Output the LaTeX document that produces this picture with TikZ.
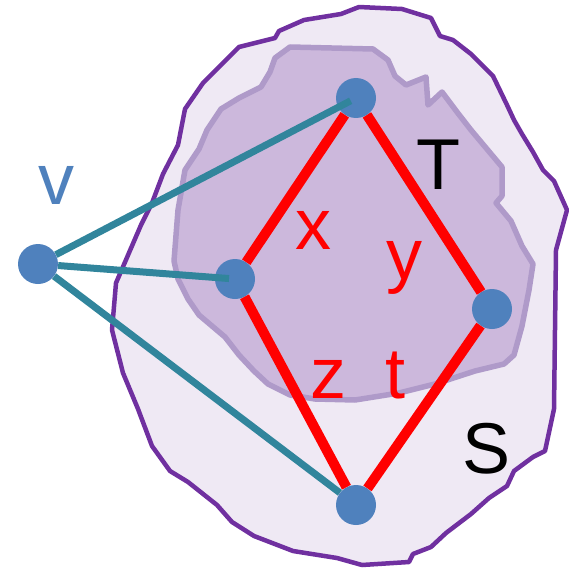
\documentclass[tikz,border=0pt]{standalone}
\usepackage{fontspec}
\setmainfont{Liberation Sans}
\usepackage{xcolor}
\usepackage{tikz}
\usetikzlibrary{positioning}
\definecolor{vertexblue}{HTML}{4F81BD}
\definecolor{edgeteal}{HTML}{31859C}
\definecolor{edgered}{HTML}{FF0000}
\definecolor{outerfill}{HTML}{EFE9F4}
\definecolor{outerline}{HTML}{7030A0}
\definecolor{innerfill}{HTML}{CCB8DC}
\definecolor{innerline}{HTML}{AF9AC9}

\begin{document}
\begin{tikzpicture}[x=1pt, y=-1pt,
        vertex/.style={circle, fill=vertexblue, inner sep=0pt, minimum size=40pt},
        redge/.style={draw=edgered, line width=10pt},
        tedge/.style={draw=edgeteal, line width=7pt},
        setlabel/.style={anchor=base, inner sep=0pt, font=\fontsize{72}{80}\selectfont}]
    \useasboundingbox (0,0) rectangle (568,575);

    % set S
    \draw[outerline, fill=outerfill, line width=4.5pt, line join=round]
        (359,7) -- (402,9) -- (431,18) -- (440,36) -- (453,40) -- (471,54)
        -- (493,76) -- (507,105) -- (514,120) -- (522,134) -- (533,152)
        -- (543,170) -- (554,181) -- (567,210) -- (556,250) -- (554,409)
        -- (545,451) -- (533,457) -- (514,471) -- (507,486) -- (489,498)
        -- (471,514) -- (446,533) -- (431,547) -- (413,554) -- (409,562)
        -- (362,565) -- (337,558) -- (293,551) -- (254,536) -- (232,522)
        -- (217,505) -- (188,482) -- (170,471) -- (152,446) -- (138,409)
        -- (123,373) -- (112,330) -- (116,283) -- (141,225) -- (152,203)
        -- (163,174) -- (178,145) -- (185,109) -- (203,83) -- (221,65)
        -- (239,47) -- (275,38) -- (279,31) -- (304,20) -- (341,14) -- cycle;

    % set T
    \draw[innerline, fill=innerfill, line width=5.5pt, line join=round]
        (290,47) -- (373,49) -- (388,60) -- (395,76) -- (406,85) -- (426,77)
        -- (428,105) -- (442,92) -- (457,112) -- (471,130) -- (502,167)
        -- (502,196) -- (496,203) -- (511,221) -- (522,246) -- (533,264)
        -- (529,290) -- (522,326) -- (514,355) -- (504,364) -- (475,371)
        -- (435,384) -- (399,393) -- (355,400) -- (315,399) -- (290,395)
        -- (268,384) -- (254,371) -- (239,355) -- (225,337) -- (199,315)
        -- (188,299) -- (178,279) -- (174,261) -- (178,210) -- (185,170)
        -- (199,149) -- (207,130) -- (221,109) -- (239,98) -- (261,87)
        -- (270,72) -- (275,58) -- cycle;

    % labels
    \node[setlabel] (labT) at (438,189) {T};
    \node[setlabel] (labS) at (487,473) {S};
    \node[setlabel, text=vertexblue] (labv) at (56,204) {v};
    \node[setlabel, text=edgered] (labx) at (313,249) {x};
    \node[setlabel, text=edgered] (laby) at (404,279) {y};
    \node[setlabel, text=edgered] (labz) at (328,398) {z};
    \node[setlabel, text=edgered] (labt) at (395,398) {t};

    % vertices
    \node[vertex] (top) at (356,98) {};
    \node[vertex] (left) at (235,279) {};
    \node[vertex] (right) at (492,309) {};
    \node[vertex] (bottom) at (356,505) {};
    \node[vertex] (v) at (38,264) {};

    \draw[redge] (left) -- (top);
    \draw[redge] (top) -- (right);
    \draw[redge] (right) -- (bottom);
    \draw[redge] (bottom) -- (left);

    \draw[tedge, shorten >=6pt] (v) -- (top.center);
    \draw[tedge, shorten >=6pt] (v) -- (left.center);
    \draw[tedge] (v) -- (bottom);
\end{tikzpicture}
\end{document}
